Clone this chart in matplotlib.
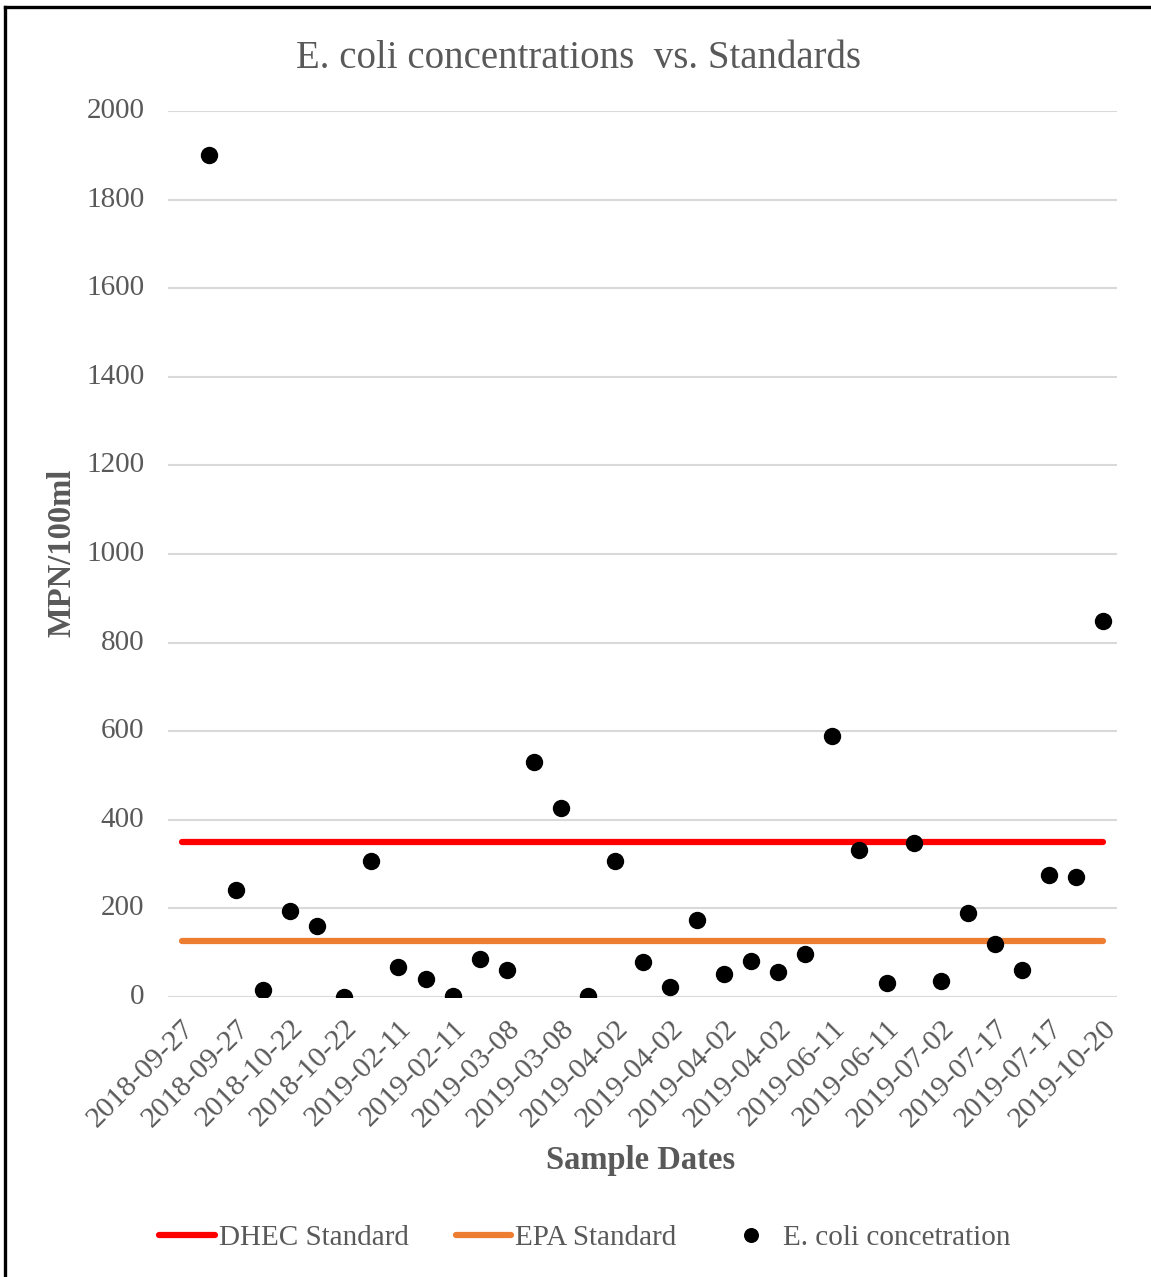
import numpy as np
import matplotlib.pyplot as plt
from matplotlib.lines import Line2D

# Sample dates (one slot per sample, first slot has no reading)
dates = ['2018-09-27', '2018-09-27', '2018-09-27', '2018-09-27',
         '2018-10-22', '2018-10-22', '2018-10-22', '2018-10-22',
         '2019-02-11', '2019-02-11', '2019-02-11', '2019-02-11',
         '2019-03-08', '2019-03-08', '2019-03-08', '2019-03-08',
         '2019-04-02', '2019-04-02', '2019-04-02', '2019-04-02',
         '2019-04-02', '2019-04-02', '2019-04-02', '2019-04-02',
         '2019-06-11', '2019-06-11', '2019-06-11', '2019-06-11',
         '2019-07-02', '2019-07-02', '2019-07-17', '2019-07-17',
         '2019-07-17', '2019-07-17', '2019-10-20']

# E. coli results, MPN/100ml (None = no sample in that slot)
ecoli = [None, 1900, 241, 16, 194, 160, 0, 307, 67, 41, 2, 86, 62,
         530, 427, 2, 307, 78, 23, 173, 53, 82, 57, 97, 589, 332,
         32, 348, 35, 189, 120, 60, 275, 272, 849]

dhec_std = 349
epa_std = 126

gray = '#595959'
serif = ['Liberation Serif', 'DejaVu Serif']
plt.rcParams['font.family'] = serif

x = np.arange(len(dates))
y = np.array([np.nan if v is None else v for v in ecoli], dtype=float)

fig = plt.figure(figsize=(11.51, 12.77), dpi=100)
ax = fig.add_axes([168/1151, 1 - 997/1277, (1117 - 168)/1151, (997 - 111)/1277])

ax.plot(x, np.full(len(x), dhec_std), color='#ff0000', lw=4.5,
        solid_capstyle='round', label='DHEC Standard', zorder=3)
ax.plot(x, np.full(len(x), epa_std), color='#ed7d31', lw=4.5,
        solid_capstyle='round', label='EPA Standard', zorder=3)
ax.plot(x, y, 'o', color='black', ms=11.5, label='E. coli concetration', zorder=4)

ax.set_xlim(-0.5, len(x) - 0.5)
ax.set_ylim(0, 2000)
ax.set_yticks(np.arange(0, 2001, 200))
ax.set_xticks(x[::2])
ax.set_xticklabels(dates[::2], rotation=45, ha='right', rotation_mode='anchor')

ax.grid(axis='y', color='#d9d9d9', lw=1.5)
ax.set_axisbelow(True)
for s in ax.spines.values():
    s.set_visible(False)
ax.tick_params(axis='y', length=0, labelsize=21, labelcolor=gray, pad=17)
ax.tick_params(axis='x', length=0, labelsize=21.5, labelcolor=gray, pad=13)
for lbl in ax.get_yticklabels():
    lbl.set_verticalalignment('center')

fig.text(0.503, 1 - 58/1277, 'E. coli concentrations  vs. Standards',
         ha='center', va='center', fontsize=28, color=gray)
fig.text(641/1151, 1 - 1160/1277, 'Sample Dates', ha='center', va='center',
         fontsize=23.5, fontweight='bold', color=gray)
fig.text(62/1151, 1 - 553/1277, 'MPN/100ml', ha='center', va='center',
         rotation=90, fontsize=23.5, fontweight='bold', color=gray)

handles, labels = ax.get_legend_handles_labels()
leg = fig.legend(handles, labels, loc='center', ncol=3, frameon=False,
                 bbox_to_anchor=(585/1151, 1 - 1238/1277), fontsize=21,
                 handlelength=1.9, handletextpad=0.15, columnspacing=1.6,
                 markerscale=0.85)
for t in leg.get_texts():
    t.set_color(gray)

# frame along the left and top edges
fig.add_artist(Line2D([5/1151, 5/1151], [0, 1 - 7/1277], color='black', lw=2.4))
fig.add_artist(Line2D([5/1151, 1], [1 - 7/1277, 1 - 7/1277], color='black', lw=2.4))

fig.savefig('out.png', dpi=100)
